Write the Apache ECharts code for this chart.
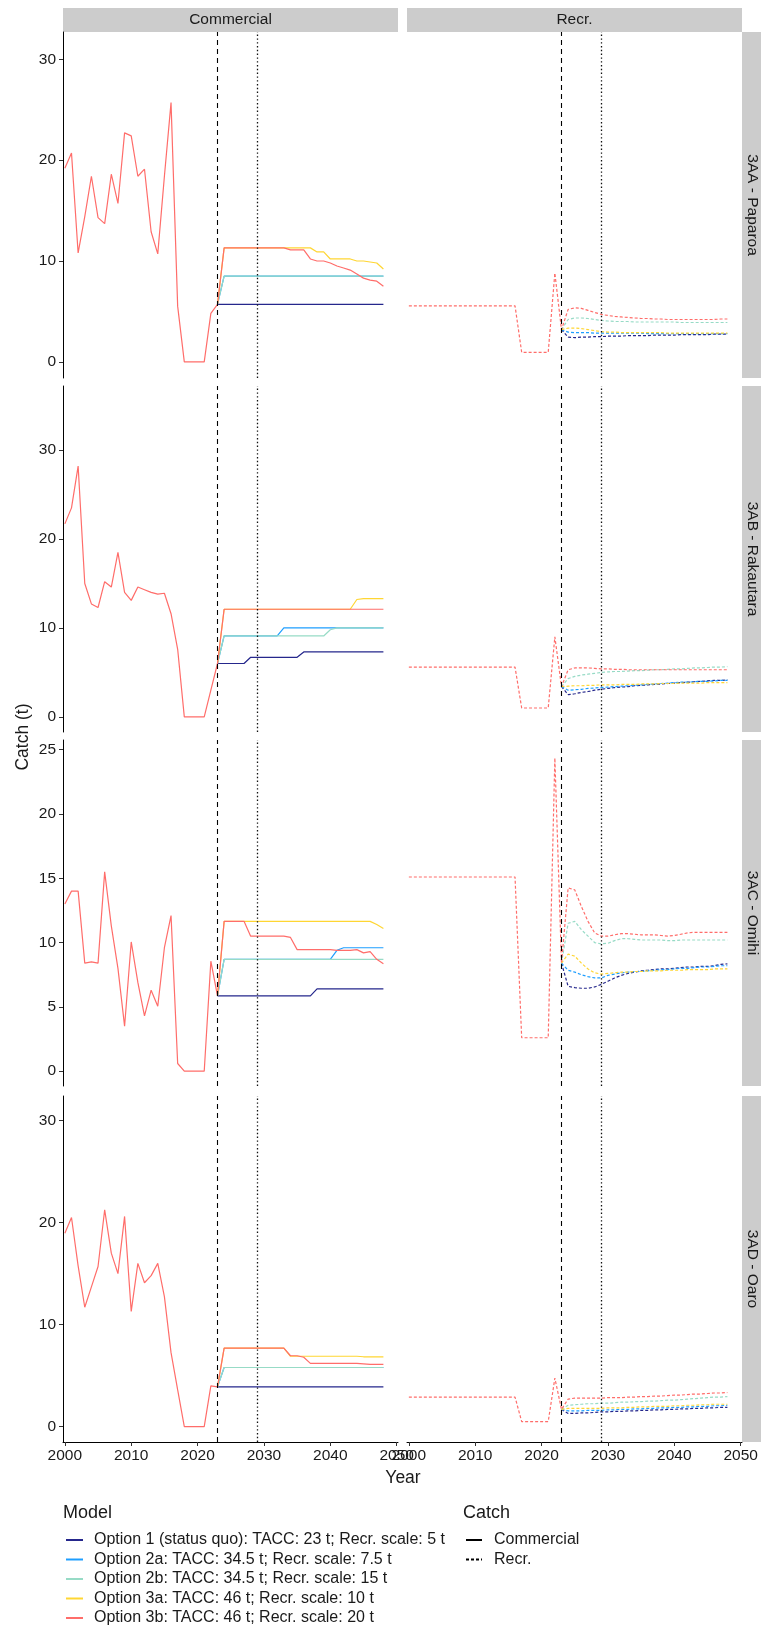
<!DOCTYPE html>
<html>
<head>
<meta charset="utf-8">
<script src="https://cdn.jsdelivr.net/npm/echarts@6/dist/echarts.min.js"></script>
<style>
  html, body { margin: 0; padding: 0; background: #fff; }
  #chart { width: 761px; height: 1627px; }
</style>
</head>
<body>
<div id="chart"></div>
<script>
// categories
var regions = ['3AA - Paparoa', '3AB - Rakautara', '3AC - Omihi', '3AD - Oaro'];
var catchTypes = ['Commercial', 'Recr.'];
var models = [
    'Option 1 (status quo): TACC: 23 t; Recr. scale: 5 t',
    'Option 2a: TACC: 34.5 t; Recr. scale: 7.5 t',
    'Option 2b: TACC: 34.5 t; Recr. scale: 15 t',
    'Option 3a: TACC: 46 t; Recr. scale: 10 t',
    'Option 3b: TACC: 46 t; Recr. scale: 20 t'
];
var histYears = [2000, 2001, 2002, 2003, 2004, 2005, 2006, 2007, 2008, 2009,
    2010, 2011, 2012, 2013, 2014, 2015, 2016, 2017, 2018, 2019, 2020, 2021, 2022];
var projYears = [2023, 2024, 2025, 2026, 2027, 2028, 2029, 2030, 2031, 2032, 2033,
    2034, 2035, 2036, 2037, 2038, 2039, 2040, 2041, 2042, 2043,
    2044, 2045, 2046, 2047, 2048];
var refYears = [2023, 2029];
var xTicks = [2000, 2010, 2020, 2030, 2040, 2050];
var yTicks = [[0, 10, 20, 30], [0, 10, 20, 30], [0, 5, 10, 15, 20, 25], [0, 10, 20, 30]];

// 3AA - Paparoa
var com3AA_hist = [19.2, 20.7, 10.8, 14.4, 18.4, 14.3, 13.7, 18.6, 15.7, 22.7,
    22.4, 18.4, 19.1, 12.9, 10.7, 18.4, 25.7, 5.5, 0, 0, 0, 0, 4.8];
var com3AA_proj = [
    [5.7, 5.7, 5.7, 5.7, 5.7, 5.7, 5.7, 5.7, 5.7, 5.7, 5.7, 5.7, 5.7, 5.7, 5.7, 5.7, 5.7, 5.7, 5.7, 5.7, 5.7, 5.7, 5.7, 5.7, 5.7, 5.7],
    [5.7, 8.5, 8.5, 8.5, 8.5, 8.5, 8.5, 8.5, 8.5, 8.5, 8.5, 8.5, 8.5, 8.5, 8.5, 8.5, 8.5, 8.5, 8.5, 8.5, 8.5, 8.5, 8.5, 8.5, 8.5, 8.5],
    [5.7, 8.5, 8.5, 8.5, 8.5, 8.5, 8.5, 8.5, 8.5, 8.5, 8.5, 8.5, 8.5, 8.5, 8.5, 8.5, 8.5, 8.5, 8.5, 8.5, 8.5, 8.5, 8.5, 8.5, 8.5, 8.5],
    [5.7, 11.3, 11.3, 11.3, 11.3, 11.3, 11.3, 11.3, 11.3, 11.3, 11.3, 11.3, 11.3, 11.3, 11.3, 10.9, 10.9, 10.2, 10.2, 10.2, 10.2, 10.0, 10.0, 9.9, 9.8, 9.2],
    [5.7, 11.3, 11.3, 11.3, 11.3, 11.3, 11.3, 11.3, 11.3, 11.3, 11.3, 11.1, 11.1, 11.1, 10.2, 10.0, 10.0, 9.8, 9.5, 9.3, 9.1, 8.7, 8.3, 8.1, 8.0, 7.5]
];
var rec3AA_hist = [5.55, 5.55, 5.55, 5.55, 5.55, 5.55, 5.55, 5.55, 5.55, 5.55,
    5.55, 5.55, 5.55, 5.55, 5.55, 5.55, 5.55, 0.95, 0.95, 0.95, 0.95, 0.95, 8.8];
var rec3AA_proj = [
    [3.2, 2.45, 2.4, 2.45, 2.45, 2.5, 2.5, 2.55, 2.55, 2.55, 2.6, 2.6, 2.6, 2.6, 2.65, 2.65, 2.65, 2.65, 2.7, 2.7, 2.7, 2.7, 2.7, 2.75, 2.75, 2.75],
    [3.2, 2.95, 2.9, 2.9, 2.9, 2.85, 2.85, 2.85, 2.85, 2.85, 2.85, 2.85, 2.85, 2.8, 2.8, 2.8, 2.8, 2.8, 2.8, 2.8, 2.8, 2.8, 2.8, 2.8, 2.8, 2.8],
    [3.2, 4.2, 4.35, 4.35, 4.3, 4.2, 4.1, 4.05, 4.0, 4.0, 4.0, 3.95, 3.95, 3.95, 3.95, 3.95, 3.95, 3.95, 3.9, 3.9, 3.9, 3.9, 3.9, 3.9, 3.9, 3.9],
    [3.2, 3.35, 3.35, 3.3, 3.2, 3.1, 3.0, 2.95, 2.95, 2.9, 2.9, 2.9, 2.9, 2.9, 2.9, 2.9, 2.85, 2.85, 2.85, 2.85, 2.85, 2.85, 2.85, 2.85, 2.85, 2.85],
    [3.2, 5.2, 5.35, 5.3, 5.1, 4.9, 4.7, 4.6, 4.5, 4.45, 4.4, 4.35, 4.3, 4.3, 4.25, 4.25, 4.2, 4.2, 4.2, 4.2, 4.2, 4.2, 4.2, 4.2, 4.25, 4.25]
];

// 3AB - Rakautara
var com3AB_hist = [21.7, 23.5, 28.2, 15.0, 12.7, 12.3, 15.2, 14.6, 18.5, 14.0,
    13.1, 14.6, 14.3, 14.0, 13.8, 13.9, 11.6, 7.6, 0, 0, 0, 0, 3.0];
var com3AB_proj = [
    [6.0, 6.0, 6.0, 6.0, 6.0, 6.7, 6.7, 6.7, 6.7, 6.7, 6.7, 6.7, 6.7, 7.3, 7.3, 7.3, 7.3, 7.3, 7.3, 7.3, 7.3, 7.3, 7.3, 7.3, 7.3, 7.3],
    [6.0, 9.1, 9.1, 9.1, 9.1, 9.1, 9.1, 9.1, 9.1, 9.1, 10.0, 10.0, 10.0, 10.0, 10.0, 10.0, 10.0, 10.0, 10.0, 10.0, 10.0, 10.0, 10.0, 10.0, 10.0, 10.0],
    [6.0, 9.1, 9.1, 9.1, 9.1, 9.1, 9.1, 9.1, 9.1, 9.1, 9.1, 9.1, 9.1, 9.1, 9.1, 9.1, 9.1, 9.8, 10.0, 10.0, 10.0, 10.0, 10.0, 10.0, 10.0, 10.0],
    [6.0, 12.1, 12.1, 12.1, 12.1, 12.1, 12.1, 12.1, 12.1, 12.1, 12.1, 12.1, 12.1, 12.1, 12.1, 12.1, 12.1, 12.1, 12.1, 12.1, 12.1, 13.2, 13.3, 13.3, 13.3, 13.3],
    [6.0, 12.1, 12.1, 12.1, 12.1, 12.1, 12.1, 12.1, 12.1, 12.1, 12.1, 12.1, 12.1, 12.1, 12.1, 12.1, 12.1, 12.1, 12.1, 12.1, 12.1, 12.1, 12.1, 12.1, 12.1, 12.1]
];
var rec3AB_hist = [5.6, 5.6, 5.6, 5.6, 5.6, 5.6, 5.6, 5.6, 5.6, 5.6,
    5.6, 5.6, 5.6, 5.6, 5.6, 5.6, 5.6, 1.0, 1.0, 1.0, 1.0, 1.0, 9.0];
var rec3AB_proj = [
    [3.4, 2.5, 2.6, 2.75, 2.85, 3.0, 3.1, 3.2, 3.3, 3.35, 3.4, 3.5, 3.55, 3.6, 3.65, 3.7, 3.75, 3.8, 3.85, 3.9, 3.95, 4.0, 4.05, 4.1, 4.1, 4.15],
    [3.4, 3.0, 3.05, 3.1, 3.2, 3.25, 3.3, 3.35, 3.4, 3.45, 3.5, 3.55, 3.6, 3.65, 3.7, 3.75, 3.8, 3.85, 3.9, 3.9, 3.95, 4.0, 4.0, 4.05, 4.1, 4.1],
    [3.4, 4.3, 4.55, 4.7, 4.8, 4.9, 5.0, 5.05, 5.1, 5.1, 5.15, 5.2, 5.2, 5.25, 5.3, 5.3, 5.35, 5.4, 5.4, 5.45, 5.5, 5.5, 5.55, 5.6, 5.6, 5.65],
    [3.4, 3.45, 3.5, 3.5, 3.55, 3.55, 3.6, 3.6, 3.6, 3.65, 3.65, 3.65, 3.7, 3.7, 3.7, 3.75, 3.75, 3.75, 3.8, 3.8, 3.8, 3.8, 3.85, 3.85, 3.85, 3.85],
    [3.4, 5.3, 5.5, 5.5, 5.5, 5.45, 5.4, 5.4, 5.35, 5.35, 5.3, 5.3, 5.3, 5.3, 5.3, 5.3, 5.3, 5.3, 5.3, 5.3, 5.3, 5.3, 5.3, 5.3, 5.3, 5.3]
];

// 3AC - Omihi
var com3AC_hist = [13.0, 14.0, 14.0, 8.4, 8.5, 8.4, 15.5, 11.3, 8.0, 3.5,
    10.05, 6.9, 4.3, 6.3, 5.05, 9.6, 12.1, 0.6, 0, 0, 0, 0, 8.55];
var com3AC_proj = [
    [5.85, 5.85, 5.85, 5.85, 5.85, 5.85, 5.85, 5.85, 5.85, 5.85, 5.85, 5.85, 5.85, 5.85, 5.85, 6.4, 6.4, 6.4, 6.4, 6.4, 6.4, 6.4, 6.4, 6.4, 6.4, 6.4],
    [5.85, 8.7, 8.7, 8.7, 8.7, 8.7, 8.7, 8.7, 8.7, 8.7, 8.7, 8.7, 8.7, 8.7, 8.7, 8.7, 8.7, 8.7, 9.4, 9.6, 9.6, 9.6, 9.6, 9.6, 9.6, 9.6],
    [5.85, 8.7, 8.7, 8.7, 8.7, 8.7, 8.7, 8.7, 8.7, 8.7, 8.7, 8.7, 8.7, 8.7, 8.7, 8.7, 8.7, 8.7, 8.7, 8.7, 8.7, 8.7, 8.7, 8.7, 8.7, 8.7],
    [5.85, 11.65, 11.65, 11.65, 11.65, 11.65, 11.65, 11.65, 11.65, 11.65, 11.65, 11.65, 11.65, 11.65, 11.65, 11.65, 11.65, 11.65, 11.65, 11.65, 11.65, 11.65, 11.65, 11.65, 11.4, 11.1],
    [5.85, 11.65, 11.65, 11.65, 11.65, 10.5, 10.5, 10.5, 10.5, 10.5, 10.5, 10.4, 9.45, 9.45, 9.45, 9.45, 9.45, 9.45, 9.4, 9.4, 9.4, 9.45, 9.2, 9.3, 8.7, 8.35]
];
var rec3AC_hist = [15.1, 15.1, 15.1, 15.1, 15.1, 15.1, 15.1, 15.1, 15.1, 15.1,
    15.1, 15.1, 15.1, 15.1, 15.1, 15.1, 15.1, 2.6, 2.6, 2.6, 2.6, 2.6, 24.35];
var rec3AC_proj = [
    [8.4, 6.6, 6.5, 6.45, 6.45, 6.55, 6.75, 7.0, 7.25, 7.45, 7.6, 7.7, 7.8, 7.85, 7.9, 7.95, 7.95, 8.0, 8.05, 8.1, 8.1, 8.15, 8.15, 8.2, 8.3, 8.35],
    [8.4, 7.85, 7.7, 7.5, 7.35, 7.25, 7.25, 7.45, 7.55, 7.65, 7.7, 7.75, 7.75, 7.8, 7.85, 7.9, 7.9, 7.95, 8.0, 8.0, 8.05, 8.1, 8.1, 8.15, 8.2, 8.2],
    [8.4, 11.5, 11.65, 11.0, 10.5, 10.0, 9.9, 9.95, 10.15, 10.3, 10.3, 10.25, 10.2, 10.2, 10.2, 10.2, 10.15, 10.15, 10.2, 10.2, 10.2, 10.2, 10.2, 10.2, 10.2, 10.2],
    [8.4, 9.1, 8.95, 8.4, 7.95, 7.65, 7.55, 7.6, 7.65, 7.7, 7.7, 7.75, 7.75, 7.8, 7.8, 7.8, 7.85, 7.85, 7.85, 7.9, 7.9, 7.9, 7.9, 7.95, 7.95, 7.95],
    [8.4, 14.25, 14.1, 12.8, 11.65, 10.75, 10.5, 10.5, 10.6, 10.7, 10.7, 10.65, 10.6, 10.6, 10.6, 10.55, 10.5, 10.55, 10.65, 10.75, 10.8, 10.8, 10.8, 10.8, 10.8, 10.8]
];

// 3AD - Oaro
var com3AD_hist = [18.95, 20.5, 15.75, 11.7, 13.7, 15.7, 21.25, 17.0, 15.0, 20.6,
    11.3, 16.0, 14.1, 14.8, 16.0, 12.75, 7.25, 3.6, 0, 0, 0, 0, 4.0];
var com3AD_proj = [
    [3.9, 3.9, 3.9, 3.9, 3.9, 3.9, 3.9, 3.9, 3.9, 3.9, 3.9, 3.9, 3.9, 3.9, 3.9, 3.9, 3.9, 3.9, 3.9, 3.9, 3.9, 3.9, 3.9, 3.9, 3.9, 3.9],
    [3.9, 5.8, 5.8, 5.8, 5.8, 5.8, 5.8, 5.8, 5.8, 5.8, 5.8, 5.8, 5.8, 5.8, 5.8, 5.8, 5.8, 5.8, 5.8, 5.8, 5.8, 5.8, 5.8, 5.8, 5.8, 5.8],
    [3.9, 5.8, 5.8, 5.8, 5.8, 5.8, 5.8, 5.8, 5.8, 5.8, 5.8, 5.8, 5.8, 5.8, 5.8, 5.8, 5.8, 5.8, 5.8, 5.8, 5.8, 5.8, 5.8, 5.8, 5.8, 5.8],
    [3.9, 7.7, 7.7, 7.7, 7.7, 7.7, 7.7, 7.7, 7.7, 7.7, 7.7, 6.9, 6.9, 6.9, 6.9, 6.9, 6.9, 6.9, 6.9, 6.9, 6.9, 6.9, 6.85, 6.85, 6.85, 6.85],
    [3.9, 7.7, 7.7, 7.7, 7.7, 7.7, 7.7, 7.7, 7.7, 7.7, 7.7, 6.95, 6.95, 6.8, 6.2, 6.2, 6.2, 6.2, 6.2, 6.2, 6.2, 6.2, 6.15, 6.1, 6.1, 6.1]
];
var rec3AD_hist = [2.9, 2.9, 2.9, 2.9, 2.9, 2.9, 2.9, 2.9, 2.9, 2.9,
    2.9, 2.9, 2.9, 2.9, 2.9, 2.9, 2.9, 0.5, 0.5, 0.5, 0.5, 0.5, 4.75];
var rec3AD_proj = [
    [1.7, 1.3, 1.3, 1.35, 1.35, 1.4, 1.45, 1.45, 1.5, 1.5, 1.55, 1.55, 1.6, 1.6, 1.65, 1.65, 1.7, 1.7, 1.75, 1.75, 1.8, 1.8, 1.85, 1.85, 1.9, 1.9],
    [1.7, 1.55, 1.55, 1.55, 1.6, 1.6, 1.6, 1.65, 1.65, 1.7, 1.7, 1.75, 1.75, 1.8, 1.8, 1.85, 1.85, 1.9, 1.9, 1.95, 1.95, 2.0, 2.0, 2.05, 2.05, 2.1],
    [1.7, 2.1, 2.15, 2.2, 2.25, 2.25, 2.3, 2.3, 2.35, 2.4, 2.4, 2.45, 2.45, 2.5, 2.5, 2.55, 2.6, 2.6, 2.65, 2.7, 2.75, 2.8, 2.85, 2.9, 2.9, 2.95],
    [1.7, 1.8, 1.8, 1.8, 1.8, 1.8, 1.8, 1.85, 1.85, 1.85, 1.9, 1.9, 1.95, 1.95, 2.0, 2.0, 2.0, 2.05, 2.05, 2.1, 2.1, 2.15, 2.15, 2.2, 2.2, 2.2],
    [1.7, 2.7, 2.8, 2.8, 2.8, 2.8, 2.8, 2.85, 2.85, 2.85, 2.9, 2.9, 2.95, 2.95, 3.0, 3.0, 3.05, 3.1, 3.1, 3.15, 3.2, 3.2, 3.25, 3.3, 3.3, 3.35]
];

var histByCatch = [[com3AA_hist, com3AB_hist, com3AC_hist, com3AD_hist],
    [rec3AA_hist, rec3AB_hist, rec3AC_hist, rec3AD_hist]];
var projByCatch = [[com3AA_proj, com3AB_proj, com3AC_proj, com3AD_proj],
    [rec3AA_proj, rec3AB_proj, rec3AC_proj, rec3AD_proj]];

// layout / style
var colours = ['#25278C', '#1E9EFF', '#97DBC6', '#FFD633', '#FF6D6A'];
var lineTypes = ['solid', [3, 2]];
var panelLeft = [63, 407];
var panelW = 335;
var rowTop = [32, 386, 740, 1096];
var rowH = 346;
var xRange = [1999.72, 2050.2];
var yRange = [[-1.6, 32.7], [-1.7, 37.2], [-1.15, 25.75], [-1.5, 32.4]];
var FONT = '"Liberation Sans", Arial, Helvetica, sans-serif';
var TXT = '#1a1a1a';

var chart = echarts.init(document.getElementById('chart'), null, {renderer: 'canvas'});

var grids = [], xAxes = [], yAxes = [], series = [], graphics = [];
var lastModel = models.length - 1;

for (var r = 0; r < 4; r++) {
    for (var c = 0; c < 2; c++) {
        var gi = r * 2 + c;
        grids.push({
            left: panelLeft[c], top: rowTop[r], width: panelW, height: rowH,
            outerBoundsMode: 'none'
        });
        var bottomRow = (r === 3);
        xAxes.push({
            type: 'value', gridIndex: gi, min: xRange[0], max: xRange[1],
            show: bottomRow,
            splitLine: {show: false},
            axisLine: {show: true, onZero: false, lineStyle: {color: '#000', width: 1}},
            axisTick: {show: true, length: 4, customValues: xTicks, lineStyle: {color: '#333', width: 1}},
            axisLabel: {
                customValues: xTicks, margin: 6, fontSize: 15.5, fontFamily: FONT, color: TXT,
                showMinLabel: true, showMaxLabel: true, hideOverlap: false,
                formatter: function (v) { return String(v); }
            }
        });
        yAxes.push({
            type: 'value', gridIndex: gi, min: yRange[r][0], max: yRange[r][1],
            show: c === 0,
            splitLine: {show: false},
            axisLine: {show: true, onZero: false, lineStyle: {color: '#000', width: 1}},
            axisTick: {show: true, length: 4, customValues: yTicks[r], lineStyle: {color: '#333', width: 1}},
            axisLabel: {customValues: yTicks[r], margin: 7, fontSize: 15.5, fontFamily: FONT, color: TXT}
        });

        for (var m = 0; m < models.length; m++) {
            var hist = histByCatch[c][r];
            var proj = projByCatch[c][r][m];
            var pts = [];
            // shared history is drawn once, by the top-most series
            if (m === lastModel) {
                for (var i = 0; i < histYears.length; i++) pts.push([histYears[i], hist[i]]);
            }
            for (var j = 0; j < projYears.length; j++) pts.push([projYears[j], proj[j]]);
            var s = {
                name: models[m], type: 'line', xAxisIndex: gi, yAxisIndex: gi,
                data: pts, symbol: 'none', showSymbol: false, silent: true,
                color: colours[m],
                lineStyle: {color: colours[m], width: 1.2, type: lineTypes[c]},
                z: 2 + m
            };
            if (m === 0) {
                s.markLine = {
                    silent: true, symbol: ['none', 'none'], label: {show: false},
                    z: 10,
                    data: [
                        {xAxis: refYears[0], lineStyle: {color: '#000', width: 1.1, type: [5, 4]}},
                        {xAxis: refYears[1], lineStyle: {color: '#111', width: 1.3, type: [1.4, 2.4]}}
                    ]
                };
            }
            series.push(s);
        }

        // strips
        if (r === 0) {
            graphics.push({
                type: 'rect', shape: {x: panelLeft[c], y: 8, width: panelW, height: 24},
                style: {fill: '#CCCCCC'}, silent: true
            });
            graphics.push({
                type: 'text', x: panelLeft[c] + panelW / 2, y: 20,
                style: {text: catchTypes[c], fill: TXT, font: '15.5px ' + FONT,
                    textAlign: 'center', textVerticalAlign: 'middle'}, silent: true
            });
        }
    }
    graphics.push({
        type: 'rect', shape: {x: 742, y: rowTop[r], width: 20, height: rowH},
        style: {fill: '#CCCCCC'}, silent: true
    });
    graphics.push({
        type: 'text', x: 752, y: rowTop[r] + rowH / 2, rotation: -Math.PI / 2,
        style: {text: regions[r], fill: TXT, font: '15.5px ' + FONT,
            textAlign: 'center', textVerticalAlign: 'middle'}, silent: true
    });
}

// catch legend keys
series.push({name: catchTypes[0], type: 'line', xAxisIndex: 0, yAxisIndex: 0, data: [],
    symbol: 'none', color: '#000', lineStyle: {color: '#000', width: 1.2, type: lineTypes[0]}});
series.push({name: catchTypes[1], type: 'line', xAxisIndex: 0, yAxisIndex: 0, data: [],
    symbol: 'none', color: '#000', lineStyle: {color: '#000', width: 1.2, type: lineTypes[1]}});

// axis titles + legend titles
graphics.push({
    type: 'text', x: 23, y: 737, rotation: Math.PI / 2,
    style: {text: 'Catch (t)', fill: TXT, font: '17.5px ' + FONT,
        textAlign: 'center', textVerticalAlign: 'middle'}, silent: true
});
graphics.push({
    type: 'text', x: 403, y: 1478,
    style: {text: 'Year', fill: TXT, font: '17.5px ' + FONT,
        textAlign: 'center', textVerticalAlign: 'middle'}, silent: true
});
graphics.push({
    type: 'text', x: 63, y: 1513,
    style: {text: 'Model', fill: TXT, font: '18px ' + FONT,
        textAlign: 'left', textVerticalAlign: 'middle'}, silent: true
});
graphics.push({
    type: 'text', x: 463, y: 1513,
    style: {text: 'Catch', fill: TXT, font: '18px ' + FONT,
        textAlign: 'left', textVerticalAlign: 'middle'}, silent: true
});

var legendBase = {
    orient: 'vertical', top: 1532, padding: 0, height: 120,
    itemHeight: 14, itemGap: 3.5, selectedMode: false,
    itemStyle: {opacity: 0}
};

var option = {
    animation: false,
    backgroundColor: '#fff',
    grid: grids,
    xAxis: xAxes,
    yAxis: yAxes,
    legend: [
        Object.assign({}, legendBase, {
            data: models, left: 65, itemWidth: 17,
            textStyle: {fontSize: 16, fontFamily: FONT, color: TXT, padding: [0, 0, 0, 6]}
        }),
        Object.assign({}, legendBase, {
            data: catchTypes, left: 465, itemWidth: 16,
            textStyle: {fontSize: 16, fontFamily: FONT, color: TXT, padding: [0, 0, 0, 7]}
        })
    ],
    graphic: graphics,
    series: series
};

chart.setOption(option, true);
</script>
</body>
</html>
